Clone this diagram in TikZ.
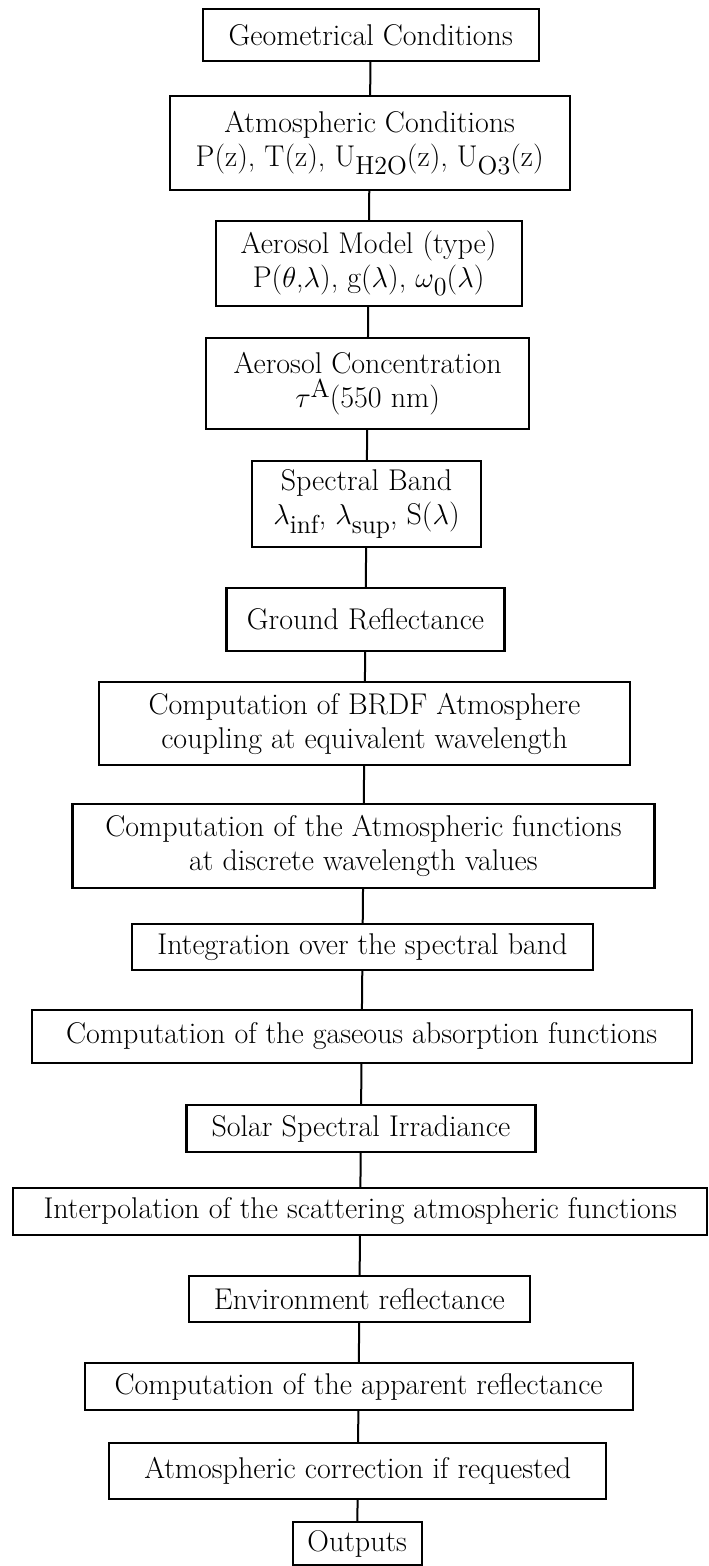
\documentclass[tikz,border=0pt]{standalone}
\usepackage{tikz}
\usetikzlibrary{positioning}

\newcommand{\lowsub}[1]{\raisebox{-0.65ex}{\fontsize{13}{13}\selectfont #1}}
\newcommand{\highsup}[1]{\raisebox{0.75ex}{\fontsize{13}{13}\selectfont #1}}

\begin{document}
\begin{tikzpicture}[
  x=0.5pt, y=-0.5pt,
  box/.style={draw, line width=1.1pt, inner sep=0pt, align=center, font=\fontsize{15}{17}\selectfont},
  link/.style={line width=1pt}
]
\useasboundingbox (0,0) rectangle (708,1566);

\node[box, minimum width=168pt, minimum height=26pt] (geom) at (370.7,35) {Geometrical Conditions};
\node[box, minimum width=200pt, minimum height=47pt] (atmos) at (369.7,143) {Atmospheric Conditions\\P(z), T(z), U\lowsub{H2O}(z), U\lowsub{O3}(z)};
\node[box, minimum width=153pt, minimum height=42.5pt] (model) at (368.6,263.5) {Aerosol Model (type)\\P($\theta$,$\lambda$), g($\lambda$), $\omega$\lowsub{0}($\lambda$)};
\node[box, minimum width=161.5pt, minimum height=45.5pt] (conc) at (367.6,383.5) {Aerosol Concentration\\$\tau$\highsup{A}(550 nm)};
\node[box, minimum width=114.5pt, minimum height=43pt] (band) at (366.5,504) {Spectral Band\\$\lambda$\lowsub{inf}, $\lambda$\lowsub{sup}, S($\lambda$)};
\node[box, minimum width=139pt, minimum height=31.5pt] (ground) at (365.5,619.5) {Ground Reflectance};
\node[box, minimum width=265.5pt, minimum height=41.5pt] (brdf) at (364.5,723.5) {Computation of BRDF Atmosphere\\coupling at equivalent wavelength};
\node[box, minimum width=291pt, minimum height=42pt] (atmfun) at (363.4,846) {Computation of the Atmospheric functions\\at discrete wavelength values};
\node[box, minimum width=230.5pt, minimum height=23pt] (integ) at (362.5,947) {Integration over the spectral band};
\node[box, minimum width=330pt, minimum height=26.5pt] (gas) at (361.7,1036.5) {Computation of the gaseous absorption functions};
\node[box, minimum width=174.5pt, minimum height=23.5pt] (solar) at (360.9,1128.5) {Solar Spectral Irradiance};
\node[box, minimum width=347pt, minimum height=23.5pt] (interp) at (360.2,1211.5) {Interpolation of the scattering atmospheric functions};
\node[box, minimum width=170.5pt, minimum height=23pt] (env) at (359.4,1299) {Environment reflectance};
\node[box, minimum width=274pt, minimum height=23.5pt] (appar) at (358.6,1386.5) {Computation of the apparent reflectance};
\node[box, minimum width=248.5pt, minimum height=28pt] (corr) at (357.8,1471) {Atmospheric correction if requested};
\node[box, minimum width=64.5pt, minimum height=21.5pt] (out) at (357.2,1543.5) {Outputs};

\draw[link] (geom) -- (atmos);
\draw[link] (atmos) -- (model);
\draw[link] (model) -- (conc);
\draw[link] (conc) -- (band);
\draw[link] (band) -- (ground);
\draw[link] (ground) -- (brdf);
\draw[link] (brdf) -- (atmfun);
\draw[link] (atmfun) -- (integ);
\draw[link] (integ) -- (gas);
\draw[link] (gas) -- (solar);
\draw[link] (solar) -- (interp);
\draw[link] (interp) -- (env);
\draw[link] (env) -- (appar);
\draw[link] (appar) -- (corr);
\draw[link] (corr) -- (out);

\end{tikzpicture}
\end{document}
